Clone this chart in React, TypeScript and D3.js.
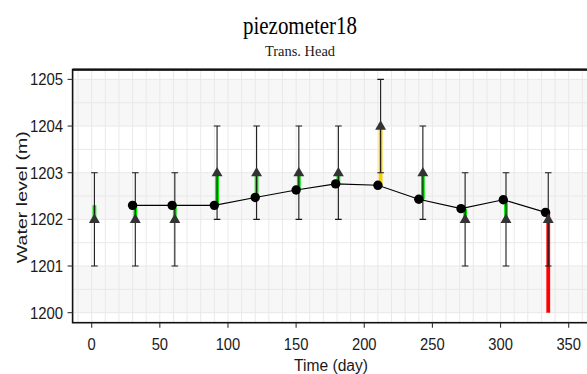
import React from "react";
import * as d3 from "d3";

// Target heads (triangles) with a ±1 m tolerance band (error bars)
const targetDays = [2, 32, 61, 92, 121, 152, 181, 212, 243, 274, 304, 335];
const targetLevels = [1202, 1202, 1202, 1203, 1203, 1203, 1203, 1204, 1203, 1202, 1202, 1202];
const tolLower = [1201, 1201, 1201, 1202, 1202, 1202, 1202, 1203, 1202, 1201, 1201, 1201];
const tolUpper = [1203, 1203, 1203, 1204, 1204, 1204, 1204, 1205, 1204, 1203, 1203, 1203];

// Observed transient heads (black circles joined by a line)
const obsDays = [30, 59, 90, 120, 150, 179, 210, 240, 271, 302, 333];
const obsLevels = [1202.3, 1202.3, 1202.3, 1202.47, 1202.63, 1202.76, 1202.73, 1202.43, 1202.23, 1202.42, 1202.15];

// Residual bars between the observation and the target
const barFrom = [1202.3, 1202.3, 1202.3, 1202.3, 1202.47, 1202.63, 1202.76, 1202.73, 1202.43, 1202.23, 1202.42, 1202.15];
const barTo = [1202, 1202, 1202, 1203, 1203, 1203, 1203, 1204, 1203, 1202, 1202, 1200];
const barColors = ["#00e600", "#00e600", "#00e600", "#00e600", "#00e600", "#00e600", "#00e600", "#f7d000", "#00e600", "#00e600", "#00e600", "#ff0000"];

const xTicks = [0, 50, 100, 150, 200, 250, 300, 350];
const yTicks = [1200, 1201, 1202, 1203, 1204, 1205];
const bandStarts = [1200, 1202, 1204];

const W = 587;
const H = 374;
const left = 72.6;
const right = 590.5;
const top = 69.6;
const bottom = 322.7;

const sans = "'Liberation Sans', Arial, sans-serif";
const serif = "'Liberation Serif', 'Times New Roman', serif";

export default function App() {
  const x = d3.scaleLinear().domain([-14, 366]).range([left, right]);
  const y = d3.scaleLinear().domain([1199.785, 1205.21]).range([bottom, top]);

  const xGrid = d3.range(-10, 370, 10);
  const yGrid = d3.range(1200, 1205.01, 0.5);

  const line = d3
    .line<number>()
    .x((_, i) => x(obsDays[i]))
    .y((d) => y(d));

  const tri = d3.symbol().type(d3.symbolTriangle).size(52)();

  return (
    <svg width={W} height={H} style={{ position: "absolute", left: 0, top: 0 }}>
      <rect x={0} y={0} width={W} height={H} fill="#fff" />
      <defs>
        <clipPath id="panel">
          <rect x={left} y={top} width={right - left} height={bottom - top} />
        </clipPath>
      </defs>

      <g clipPath="url(#panel)">
        {bandStarts.map((b) => (
          <rect key={b} x={left} width={right - left} y={y(b + 1)} height={y(b) - y(b + 1)} fill="#f7f7f7" />
        ))}
        {xGrid.map((d) => (
          <line key={"gx" + d} x1={x(d)} x2={x(d)} y1={top} y2={bottom} stroke="#e9e9e9" strokeWidth={1} />
        ))}
        {yGrid.map((d) => (
          <line key={"gy" + d} x1={left} x2={right} y1={y(d)} y2={y(d)} stroke="#e9e9e9" strokeWidth={1} />
        ))}

        {/* residual bars */}
        {targetDays.map((d, i) => (
          <line
            key={"bar" + i}
            x1={x(d)}
            x2={x(d)}
            y1={y(barFrom[i])}
            y2={y(barTo[i])}
            stroke={barColors[i]}
            strokeWidth={3.8}
          />
        ))}

        {/* tolerance error bars */}
        {targetDays.map((d, i) => (
          <g key={"eb" + i} stroke="#1a1a1a" strokeWidth={1.1}>
            <line x1={x(d)} x2={x(d)} y1={y(tolLower[i])} y2={y(tolUpper[i])} />
            <line x1={x(d) - 3.3} x2={x(d) + 3.3} y1={y(tolLower[i])} y2={y(tolLower[i])} />
            <line x1={x(d) - 3.3} x2={x(d) + 3.3} y1={y(tolUpper[i])} y2={y(tolUpper[i])} />
          </g>
        ))}

        {/* observed head line and points */}
        <path d={line(obsLevels) || ""} fill="none" stroke="#000" strokeWidth={1.1} />
        {obsDays.map((d, i) => (
          <circle key={"pt" + i} cx={x(d)} cy={y(obsLevels[i])} r={4.7} fill="#000" />
        ))}

        {/* target triangles */}
        {targetDays.map((d, i) => (
          <path key={"tri" + i} d={tri || ""} transform={`translate(${x(d)},${y(targetLevels[i]) + 0.5})`} fill="#333" />
        ))}
      </g>

      {/* panel border */}
      <rect x={left} y={top} width={right - left} height={bottom - top} fill="none" stroke="#111" strokeWidth={1.6} />
      <line x1={left} x2={right} y1={top} y2={top} stroke="#111" strokeWidth={2.2} />

      {/* y axis */}
      {yTicks.map((t) => (
        <g key={"yt" + t}>
          <line x1={left - 5} x2={left} y1={y(t)} y2={y(t)} stroke="#333" strokeWidth={1.1} />
          <text
            x={left - 9.5}
            y={y(t)}
            dy="0.36em"
            textAnchor="end"
            fontFamily={sans}
            fontSize={16.5}
            textLength={String(t).length * 8.3}
            lengthAdjust="spacingAndGlyphs"
            fill="#1a1a1a"
          >
            {t}
          </text>
        </g>
      ))}

      {/* x axis */}
      {xTicks.map((t) => (
        <g key={"xt" + t}>
          <line x1={x(t)} x2={x(t)} y1={bottom} y2={bottom + 5} stroke="#333" strokeWidth={1.1} />
          <text
            x={x(t)}
            y={350}
            textAnchor="middle"
            fontFamily={sans}
            fontSize={16.5}
            textLength={String(t).length * 8.2}
            lengthAdjust="spacingAndGlyphs"
            fill="#1a1a1a"
          >
            {t}
          </text>
        </g>
      ))}

      <text x={331} y={370.5} textAnchor="middle" fontFamily={sans} fontSize={16} textLength={74} lengthAdjust="spacingAndGlyphs" fill="#1a1a1a">
        Time (day)
      </text>

      <text
        transform={`translate(26.5,${(top + bottom) / 2 + 1}) rotate(-90)`}
        textAnchor="middle"
        fontFamily={sans}
        fontSize={15.5}
        textLength={132}
        lengthAdjust="spacingAndGlyphs"
        fill="#1a1a1a"
      >
        Water level (m)
      </text>

      {/* titles */}
      <text x={300} y={34} textAnchor="middle" fontFamily={serif} fontSize={25} textLength={114} lengthAdjust="spacingAndGlyphs" fill="#000">
        piezometer18
      </text>
      <text x={300} y={56} textAnchor="middle" fontFamily={serif} fontSize={15.5} textLength={70} lengthAdjust="spacingAndGlyphs" fill="#1a1a1a">
        Trans. Head
      </text>
    </svg>
  );
}
